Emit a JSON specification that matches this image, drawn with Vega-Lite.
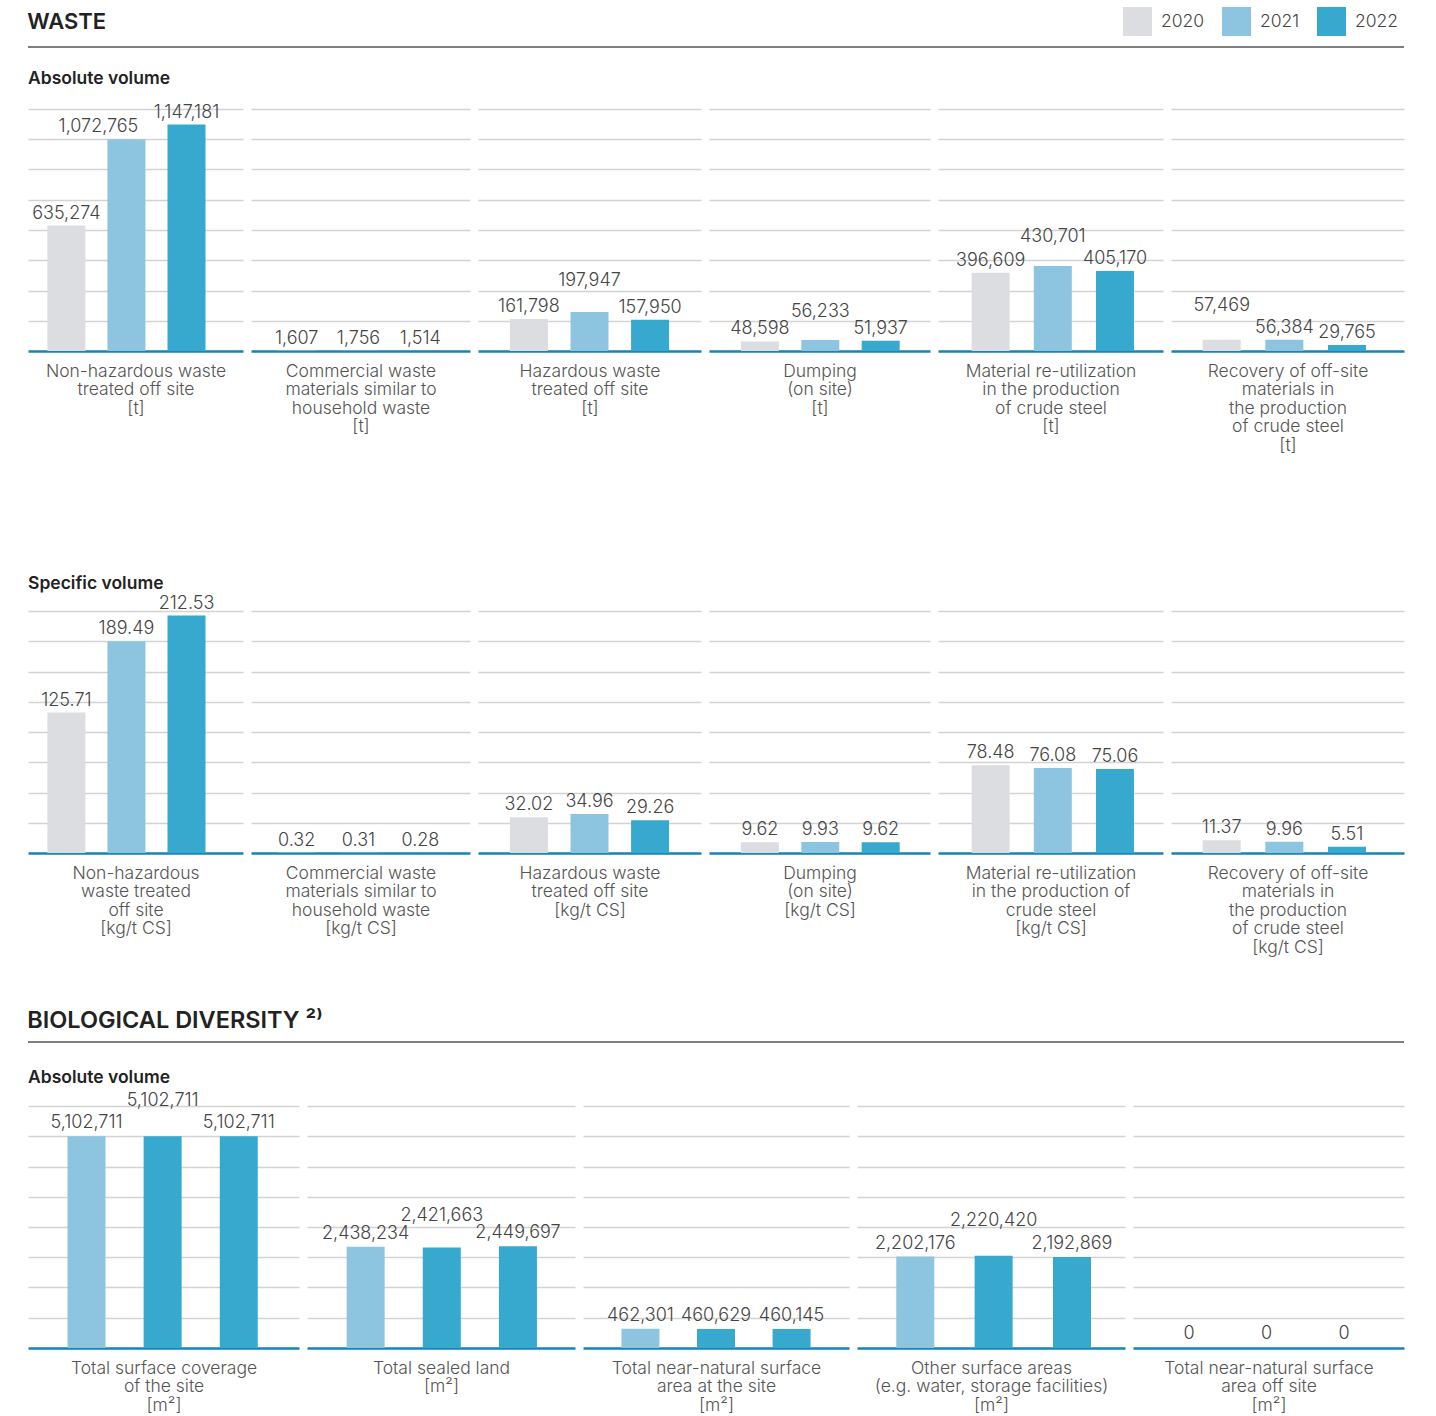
{
"$schema": "https://vega.github.io/schema/vega-lite/v6.json",
"padding": {"left": 27, "top": 7, "right": 33, "bottom": 0},
"background": "white",
"data": {"values": [
{"p":"a1","s":1,"yr":"2020","v":635274},{"p":"a1","s":2,"yr":"2021","v":1072765},{"p":"a1","s":3,"yr":"2022","v":1147181},
{"p":"a2","s":1,"yr":"2020","v":1607},{"p":"a2","s":2,"yr":"2021","v":1756},{"p":"a2","s":3,"yr":"2022","v":1514},
{"p":"a3","s":1,"yr":"2020","v":161798},{"p":"a3","s":2,"yr":"2021","v":197947},{"p":"a3","s":3,"yr":"2022","v":157950},
{"p":"a4","s":1,"yr":"2020","v":48598},{"p":"a4","s":2,"yr":"2021","v":56233},{"p":"a4","s":3,"yr":"2022","v":51937},
{"p":"a5","s":1,"yr":"2020","v":396609},{"p":"a5","s":2,"yr":"2021","v":430701},{"p":"a5","s":3,"yr":"2022","v":405170},
{"p":"a6","s":1,"yr":"2020","v":57469},{"p":"a6","s":2,"yr":"2021","v":56384},{"p":"a6","s":3,"yr":"2022","v":29765},
{"p":"s1","s":1,"yr":"2020","v":125.71},{"p":"s1","s":2,"yr":"2021","v":189.49},{"p":"s1","s":3,"yr":"2022","v":212.53},
{"p":"s2","s":1,"yr":"2020","v":0.32},{"p":"s2","s":2,"yr":"2021","v":0.31},{"p":"s2","s":3,"yr":"2022","v":0.28},
{"p":"s3","s":1,"yr":"2020","v":32.02},{"p":"s3","s":2,"yr":"2021","v":34.96},{"p":"s3","s":3,"yr":"2022","v":29.26},
{"p":"s4","s":1,"yr":"2020","v":9.62},{"p":"s4","s":2,"yr":"2021","v":9.93},{"p":"s4","s":3,"yr":"2022","v":9.62},
{"p":"s5","s":1,"yr":"2020","v":78.48},{"p":"s5","s":2,"yr":"2021","v":76.08},{"p":"s5","s":3,"yr":"2022","v":75.06},
{"p":"s6","s":1,"yr":"2020","v":11.37},{"p":"s6","s":2,"yr":"2021","v":9.96},{"p":"s6","s":3,"yr":"2022","v":5.51},
{"p":"b1","s":1,"yr":"2021","v":5102711},{"p":"b1","s":2,"yr":"2022","v":5102711},{"p":"b1","s":3,"yr":"2022","v":5102711},
{"p":"b2","s":1,"yr":"2021","v":2438234},{"p":"b2","s":2,"yr":"2022","v":2421663},{"p":"b2","s":3,"yr":"2022","v":2449697},
{"p":"b3","s":1,"yr":"2021","v":462301},{"p":"b3","s":2,"yr":"2022","v":460629},{"p":"b3","s":3,"yr":"2022","v":460145},
{"p":"b4","s":1,"yr":"2021","v":2202176},{"p":"b4","s":2,"yr":"2022","v":2220420},{"p":"b4","s":3,"yr":"2022","v":2192869},
{"p":"b5","s":1,"yr":"2021","v":0},{"p":"b5","s":2,"yr":"2022","v":0},{"p":"b5","s":3,"yr":"2022","v":0}
]},
"spacing": 52,
"vconcat": [
{"spacing": 120, "vconcat": [
{"spacing": 22, "vconcat": [
{"data": {"values": [{}]}, "width": 1376, "height": 1, "title": {"text": "WASTE", "fontSize": 22, "offset": 12},
 "mark": {"type": "rule", "color": "#555555", "strokeWidth": 1.5},
 "encoding": {"y": {"datum": 1, "type": "quantitative", "scale": {"domain": [0, 1]}, "axis": null}}},
{"title": {"text": "Absolute volume", "fontSize": 17.5, "offset": 16}, "spacing": 8, "bounds": "flush", "hconcat": [
{"width": 215, "height": 242, "transform": [{"filter": "datum.p=='a1'"}],
 "encoding": {"x": {"field": "s", "type": "ordinal", "scale": {"paddingInner": 0, "paddingOuter": 0.29, "align": 0.24}, "axis": {"title": ["Non-hazardous waste", "treated off site", "[t]"]}},
  "y": {"field": "v", "type": "quantitative", "title": null, "scale": {"domain": [0, 1226017], "nice": false}, "axis": {"values": [153252, 306504, 459756, 613009, 766261, 919513, 1072765, 1226017]}}},
 "layer": [
  {"mark": {"type": "bar", "width": 38}, "encoding": {"color": {"field": "yr", "type": "nominal", "title": null, "scale": {"domain": ["2020", "2021", "2022"], "range": ["#dcdde0", "#8dc5e1", "#37a8ce"]}}}},
  {"transform": [{"filter": "datum.s!=2"}], "mark": {"type": "text", "dy": -7}, "encoding": {"text": {"field": "v", "type": "quantitative", "format": ",.0f"}}},
  {"transform": [{"filter": "datum.s==2"}], "mark": {"type": "text", "dy": -7, "dx": -28}, "encoding": {"text": {"field": "v", "type": "quantitative", "format": ",.0f"}}}
 ]},
{"width": 219, "height": 242, "transform": [{"filter": "datum.p=='a2'"}],
 "encoding": {"x": {"field": "s", "type": "ordinal", "scale": {"paddingInner": 0, "paddingOuter": 0.27, "align": 0.44}, "axis": {"title": ["Commercial waste", "materials similar to", "household waste", "[t]"]}},
  "y": {"field": "v", "type": "quantitative", "title": null, "scale": {"domain": [0, 1226017], "nice": false}, "axis": {"values": [153252, 306504, 459756, 613009, 766261, 919513, 1072765, 1226017]}}},
 "layer": [
  {"mark": {"type": "bar", "width": 38}, "encoding": {"color": {"field": "yr", "type": "nominal", "title": null, "scale": {"domain": ["2020", "2021", "2022"], "range": ["#dcdde0", "#8dc5e1", "#37a8ce"]}}}},
  {"mark": {"type": "text", "dy": -7}, "encoding": {"text": {"field": "v", "type": "quantitative", "format": ",.0f"}}}
 ]},
{"width": 223, "height": 242, "transform": [{"filter": "datum.p=='a3'"}],
 "encoding": {"x": {"field": "s", "type": "ordinal", "scale": {"paddingInner": 0, "paddingOuter": 0.34, "align": 0.5}, "axis": {"title": ["Hazardous waste", "treated off site", "[t]"]}},
  "y": {"field": "v", "type": "quantitative", "title": null, "scale": {"domain": [0, 1226017], "nice": false}, "axis": {"values": [153252, 306504, 459756, 613009, 766261, 919513, 1072765, 1226017]}}},
 "layer": [
  {"mark": {"type": "bar", "width": 38}, "encoding": {"color": {"field": "yr", "type": "nominal", "title": null, "scale": {"domain": ["2020", "2021", "2022"], "range": ["#dcdde0", "#8dc5e1", "#37a8ce"]}}}},
  {"transform": [{"filter": "datum.s!=2"}], "mark": {"type": "text", "dy": -7}, "encoding": {"text": {"field": "v", "type": "quantitative", "format": ",.0f"}}},
  {"transform": [{"filter": "datum.s==2"}], "mark": {"type": "text", "dy": -26}, "encoding": {"text": {"field": "v", "type": "quantitative", "format": ",.0f"}}}
 ]},
{"width": 221, "height": 242, "transform": [{"filter": "datum.p=='a4'"}],
 "encoding": {"x": {"field": "s", "type": "ordinal", "scale": {"paddingInner": 0, "paddingOuter": 0.33, "align": 0.52}, "axis": {"title": ["Dumping", "(on site)", "[t]"]}},
  "y": {"field": "v", "type": "quantitative", "title": null, "scale": {"domain": [0, 1226017], "nice": false}, "axis": {"values": [153252, 306504, 459756, 613009, 766261, 919513, 1072765, 1226017]}}},
 "layer": [
  {"mark": {"type": "bar", "width": 38}, "encoding": {"color": {"field": "yr", "type": "nominal", "title": null, "scale": {"domain": ["2020", "2021", "2022"], "range": ["#dcdde0", "#8dc5e1", "#37a8ce"]}}}},
  {"transform": [{"filter": "datum.s!=2"}], "mark": {"type": "text", "dy": -7}, "encoding": {"text": {"field": "v", "type": "quantitative", "format": ",.0f"}}},
  {"transform": [{"filter": "datum.s==2"}], "mark": {"type": "text", "dy": -23}, "encoding": {"text": {"field": "v", "type": "quantitative", "format": ",.0f"}}}
 ]},
{"width": 225, "height": 242, "transform": [{"filter": "datum.p=='a5'"}],
 "encoding": {"x": {"field": "s", "type": "ordinal", "scale": {"paddingInner": 0, "paddingOuter": 0.31, "align": 0.56}, "axis": {"title": ["Material re-utilization", "in the production", "of crude steel", "[t]"]}},
  "y": {"field": "v", "type": "quantitative", "title": null, "scale": {"domain": [0, 1226017], "nice": false}, "axis": {"values": [153252, 306504, 459756, 613009, 766261, 919513, 1072765, 1226017]}}},
 "layer": [
  {"mark": {"type": "bar", "width": 38}, "encoding": {"color": {"field": "yr", "type": "nominal", "title": null, "scale": {"domain": ["2020", "2021", "2022"], "range": ["#dcdde0", "#8dc5e1", "#37a8ce"]}}}},
  {"transform": [{"filter": "datum.s!=2"}], "mark": {"type": "text", "dy": -7}, "encoding": {"text": {"field": "v", "type": "quantitative", "format": ",.0f"}}},
  {"transform": [{"filter": "datum.s==2"}], "mark": {"type": "text", "dy": -24}, "encoding": {"text": {"field": "v", "type": "quantitative", "format": ",.0f"}}}
 ]},
{"width": 233, "height": 242, "transform": [{"filter": "datum.p=='a6'"}],
 "encoding": {"x": {"field": "s", "type": "ordinal", "scale": {"paddingInner": 0, "paddingOuter": 0.36, "align": 0.43}, "axis": {"title": ["Recovery of off-site", "materials in", "the production", "of crude steel", "[t]"]}},
  "y": {"field": "v", "type": "quantitative", "title": null, "scale": {"domain": [0, 1226017], "nice": false}, "axis": {"values": [153252, 306504, 459756, 613009, 766261, 919513, 1072765, 1226017]}}},
 "layer": [
  {"mark": {"type": "bar", "width": 38}, "encoding": {"color": {"field": "yr", "type": "nominal", "title": null, "scale": {"domain": ["2020", "2021", "2022"], "range": ["#dcdde0", "#8dc5e1", "#37a8ce"]}}}},
  {"transform": [{"filter": "datum.s!=1"}], "mark": {"type": "text", "dy": -7}, "encoding": {"text": {"field": "v", "type": "quantitative", "format": ",.0f"}}},
  {"transform": [{"filter": "datum.s==1"}], "mark": {"type": "text", "dy": -29}, "encoding": {"text": {"field": "v", "type": "quantitative", "format": ",.0f"}}}
 ]}
]}
]},
{"title": {"text": "Specific volume", "fontSize": 17.5, "offset": 2.5}, "spacing": 8, "bounds": "flush", "hconcat": [
{"width": 215, "height": 242, "transform": [{"filter": "datum.p=='s1'"}],
 "encoding": {"x": {"field": "s", "type": "ordinal", "scale": {"paddingInner": 0, "paddingOuter": 0.29, "align": 0.24}, "axis": {"title": ["Non-hazardous", "waste treated", "off site", "[kg/t CS]"]}},
  "y": {"field": "v", "type": "quantitative", "title": null, "scale": {"domain": [0, 216.56], "nice": false}, "axis": {"values": [27.07, 54.14, 81.21, 108.28, 135.35, 162.42, 189.49, 216.56]}}},
 "layer": [
  {"mark": {"type": "bar", "width": 38}, "encoding": {"color": {"field": "yr", "type": "nominal", "title": null, "scale": {"domain": ["2020", "2021", "2022"], "range": ["#dcdde0", "#8dc5e1", "#37a8ce"]}}}},
  {"mark": {"type": "text", "dy": -7}, "encoding": {"text": {"field": "v", "type": "quantitative", "format": ".2f"}}}
 ]},
{"width": 219, "height": 242, "transform": [{"filter": "datum.p=='s2'"}],
 "encoding": {"x": {"field": "s", "type": "ordinal", "scale": {"paddingInner": 0, "paddingOuter": 0.27, "align": 0.44}, "axis": {"title": ["Commercial waste", "materials similar to", "household waste", "[kg/t CS]"]}},
  "y": {"field": "v", "type": "quantitative", "title": null, "scale": {"domain": [0, 216.56], "nice": false}, "axis": {"values": [27.07, 54.14, 81.21, 108.28, 135.35, 162.42, 189.49, 216.56]}}},
 "layer": [
  {"mark": {"type": "bar", "width": 38}, "encoding": {"color": {"field": "yr", "type": "nominal", "title": null, "scale": {"domain": ["2020", "2021", "2022"], "range": ["#dcdde0", "#8dc5e1", "#37a8ce"]}}}},
  {"mark": {"type": "text", "dy": -7}, "encoding": {"text": {"field": "v", "type": "quantitative", "format": ".2f"}}}
 ]},
{"width": 223, "height": 242, "transform": [{"filter": "datum.p=='s3'"}],
 "encoding": {"x": {"field": "s", "type": "ordinal", "scale": {"paddingInner": 0, "paddingOuter": 0.34, "align": 0.5}, "axis": {"title": ["Hazardous waste", "treated off site", "[kg/t CS]"]}},
  "y": {"field": "v", "type": "quantitative", "title": null, "scale": {"domain": [0, 216.56], "nice": false}, "axis": {"values": [27.07, 54.14, 81.21, 108.28, 135.35, 162.42, 189.49, 216.56]}}},
 "layer": [
  {"mark": {"type": "bar", "width": 38}, "encoding": {"color": {"field": "yr", "type": "nominal", "title": null, "scale": {"domain": ["2020", "2021", "2022"], "range": ["#dcdde0", "#8dc5e1", "#37a8ce"]}}}},
  {"mark": {"type": "text", "dy": -7}, "encoding": {"text": {"field": "v", "type": "quantitative", "format": ".2f"}}}
 ]},
{"width": 221, "height": 242, "transform": [{"filter": "datum.p=='s4'"}],
 "encoding": {"x": {"field": "s", "type": "ordinal", "scale": {"paddingInner": 0, "paddingOuter": 0.33, "align": 0.52}, "axis": {"title": ["Dumping", "(on site)", "[kg/t CS]"]}},
  "y": {"field": "v", "type": "quantitative", "title": null, "scale": {"domain": [0, 216.56], "nice": false}, "axis": {"values": [27.07, 54.14, 81.21, 108.28, 135.35, 162.42, 189.49, 216.56]}}},
 "layer": [
  {"mark": {"type": "bar", "width": 38}, "encoding": {"color": {"field": "yr", "type": "nominal", "title": null, "scale": {"domain": ["2020", "2021", "2022"], "range": ["#dcdde0", "#8dc5e1", "#37a8ce"]}}}},
  {"mark": {"type": "text", "dy": -7}, "encoding": {"text": {"field": "v", "type": "quantitative", "format": ".2f"}}}
 ]},
{"width": 225, "height": 242, "transform": [{"filter": "datum.p=='s5'"}],
 "encoding": {"x": {"field": "s", "type": "ordinal", "scale": {"paddingInner": 0, "paddingOuter": 0.31, "align": 0.56}, "axis": {"title": ["Material re-utilization", "in the production of", "crude steel", "[kg/t CS]"]}},
  "y": {"field": "v", "type": "quantitative", "title": null, "scale": {"domain": [0, 216.56], "nice": false}, "axis": {"values": [27.07, 54.14, 81.21, 108.28, 135.35, 162.42, 189.49, 216.56]}}},
 "layer": [
  {"mark": {"type": "bar", "width": 38}, "encoding": {"color": {"field": "yr", "type": "nominal", "title": null, "scale": {"domain": ["2020", "2021", "2022"], "range": ["#dcdde0", "#8dc5e1", "#37a8ce"]}}}},
  {"mark": {"type": "text", "dy": -7}, "encoding": {"text": {"field": "v", "type": "quantitative", "format": ".2f"}}}
 ]},
{"width": 233, "height": 242, "transform": [{"filter": "datum.p=='s6'"}],
 "encoding": {"x": {"field": "s", "type": "ordinal", "scale": {"paddingInner": 0, "paddingOuter": 0.36, "align": 0.43}, "axis": {"title": ["Recovery of off-site", "materials in", "the production", "of crude steel", "[kg/t CS]"]}},
  "y": {"field": "v", "type": "quantitative", "title": null, "scale": {"domain": [0, 216.56], "nice": false}, "axis": {"values": [27.07, 54.14, 81.21, 108.28, 135.35, 162.42, 189.49, 216.56]}}},
 "layer": [
  {"mark": {"type": "bar", "width": 38}, "encoding": {"color": {"field": "yr", "type": "nominal", "title": null, "scale": {"domain": ["2020", "2021", "2022"], "range": ["#dcdde0", "#8dc5e1", "#37a8ce"]}}}},
  {"mark": {"type": "text", "dy": -7}, "encoding": {"text": {"field": "v", "type": "quantitative", "format": ".2f"}}}
 ]}
]}
]},
{"spacing": 25, "vconcat": [
{"data": {"values": [{}]}, "width": 1376, "height": 1, "title": {"text": "BIOLOGICAL DIVERSITY ²⁾", "fontSize": 23.5, "offset": 9},
 "mark": {"type": "rule", "color": "#555555", "strokeWidth": 1.5},
 "encoding": {"y": {"datum": 1, "type": "quantitative", "scale": {"domain": [0, 1]}, "axis": null}}},
{"title": {"text": "Absolute volume", "fontSize": 17.5, "offset": 6}, "spacing": 8, "bounds": "flush", "hconcat": [
{"width": 271, "height": 242, "transform": [{"filter": "datum.p=='b1'"}],
 "encoding": {"x": {"field": "s", "type": "ordinal", "scale": {"paddingInner": 0, "paddingOuter": 0.28, "align": 0.48}, "axis": {"title": ["Total surface coverage", "of the site", "[m²]"]}},
  "y": {"field": "v", "type": "quantitative", "title": null, "scale": {"domain": [0, 5831670], "nice": false}, "axis": {"values": [728959, 1457918, 2186876, 2915835, 3644794, 4373752, 5102711, 5831670]}}},
 "layer": [
  {"mark": {"type": "bar", "width": 38}, "encoding": {"color": {"field": "yr", "type": "nominal", "title": null, "scale": {"domain": ["2020", "2021", "2022"], "range": ["#dcdde0", "#8dc5e1", "#37a8ce"]}}}},
  {"transform": [{"filter": "datum.s!=2"}], "mark": {"type": "text", "dy": -8}, "encoding": {"text": {"field": "v", "type": "quantitative", "format": ",.0f"}}},
  {"transform": [{"filter": "datum.s==2"}], "mark": {"type": "text", "dy": -30}, "encoding": {"text": {"field": "v", "type": "quantitative", "format": ",.0f"}}}
 ]},
{"width": 268, "height": 242, "transform": [{"filter": "datum.p=='b2'"}],
 "encoding": {"x": {"field": "s", "type": "ordinal", "scale": {"paddingInner": 0, "paddingOuter": 0.26, "align": 0.52}, "axis": {"title": ["Total sealed land", "[m²]"]}},
  "y": {"field": "v", "type": "quantitative", "title": null, "scale": {"domain": [0, 5831670], "nice": false}, "axis": {"values": [728959, 1457918, 2186876, 2915835, 3644794, 4373752, 5102711, 5831670]}}},
 "layer": [
  {"mark": {"type": "bar", "width": 38}, "encoding": {"color": {"field": "yr", "type": "nominal", "title": null, "scale": {"domain": ["2020", "2021", "2022"], "range": ["#dcdde0", "#8dc5e1", "#37a8ce"]}}}},
  {"transform": [{"filter": "datum.s!=2"}], "mark": {"type": "text", "dy": -8}, "encoding": {"text": {"field": "v", "type": "quantitative", "format": ",.0f"}}},
  {"transform": [{"filter": "datum.s==2"}], "mark": {"type": "text", "dy": -27}, "encoding": {"text": {"field": "v", "type": "quantitative", "format": ",.0f"}}}
 ]},
{"width": 266, "height": 242, "transform": [{"filter": "datum.p=='b3'"}],
 "encoding": {"x": {"field": "s", "type": "ordinal", "scale": {"paddingInner": 0, "paddingOuter": 0.26, "align": 0.5}, "axis": {"title": ["Total near-natural surface", "area at the site", "[m²]"]}},
  "y": {"field": "v", "type": "quantitative", "title": null, "scale": {"domain": [0, 5831670], "nice": false}, "axis": {"values": [728959, 1457918, 2186876, 2915835, 3644794, 4373752, 5102711, 5831670]}}},
 "layer": [
  {"mark": {"type": "bar", "width": 38}, "encoding": {"color": {"field": "yr", "type": "nominal", "title": null, "scale": {"domain": ["2020", "2021", "2022"], "range": ["#dcdde0", "#8dc5e1", "#37a8ce"]}}}},
  {"mark": {"type": "text", "dy": -8}, "encoding": {"text": {"field": "v", "type": "quantitative", "format": ",.0f"}}}
 ]},
{"width": 268, "height": 242, "transform": [{"filter": "datum.p=='b4'"}],
 "encoding": {"x": {"field": "s", "type": "ordinal", "scale": {"paddingInner": 0, "paddingOuter": 0.21, "align": 0.58}, "axis": {"title": ["Other surface areas", "(e.g. water, storage facilities)", "[m²]"]}},
  "y": {"field": "v", "type": "quantitative", "title": null, "scale": {"domain": [0, 5831670], "nice": false}, "axis": {"values": [728959, 1457918, 2186876, 2915835, 3644794, 4373752, 5102711, 5831670]}}},
 "layer": [
  {"mark": {"type": "bar", "width": 38}, "encoding": {"color": {"field": "yr", "type": "nominal", "title": null, "scale": {"domain": ["2020", "2021", "2022"], "range": ["#dcdde0", "#8dc5e1", "#37a8ce"]}}}},
  {"transform": [{"filter": "datum.s!=2"}], "mark": {"type": "text", "dy": -8}, "encoding": {"text": {"field": "v", "type": "quantitative", "format": ",.0f"}}},
  {"transform": [{"filter": "datum.s==2"}], "mark": {"type": "text", "dy": -30}, "encoding": {"text": {"field": "v", "type": "quantitative", "format": ",.0f"}}}
 ]},
{"width": 271, "height": 242, "transform": [{"filter": "datum.p=='b5'"}],
 "encoding": {"x": {"field": "s", "type": "ordinal", "scale": {"paddingInner": 0, "paddingOuter": 0.25, "align": 0.45}, "axis": {"title": ["Total near-natural surface", "area off site", "[m²]"]}},
  "y": {"field": "v", "type": "quantitative", "title": null, "scale": {"domain": [0, 5831670], "nice": false}, "axis": {"values": [728959, 1457918, 2186876, 2915835, 3644794, 4373752, 5102711, 5831670]}}},
 "layer": [
  {"mark": {"type": "bar", "width": 38}, "encoding": {"color": {"field": "yr", "type": "nominal", "title": null, "scale": {"domain": ["2020", "2021", "2022"], "range": ["#dcdde0", "#8dc5e1", "#37a8ce"]}}}},
  {"mark": {"type": "text", "dy": -9}, "encoding": {"text": {"field": "v", "type": "quantitative", "format": ",.0f"}}}
 ]}
]}
]}
],
"config": {
 "font": "Inter",
 "view": {"stroke": null},
 "axisX": {"domainColor": "#1585b6", "domainWidth": 2.5, "labels": false, "ticks": false, "grid": false, "titleFont": "Inter", "titleFontSize": 17.5, "titleFontWeight": 300, "titleColor": "#555555", "titleLineHeight": 18.5, "titlePadding": 11},
 "axisY": {"domain": false, "labels": false, "ticks": false, "grid": true, "gridColor": "#d3d3d3", "gridWidth": 1.5},
 "text": {"font": "Inter", "fontSize": 18, "fontWeight": 300, "color": "#444444", "baseline": "alphabetic", "align": "center"},
 "title": {"anchor": "start", "font": "Inter", "fontWeight": 600, "color": "#222222"},
 "legend": {"orient": "none", "legendX": 1095, "legendY": -40, "direction": "horizontal", "symbolType": "square", "symbolSize": 841, "symbolStrokeWidth": 0, "labelFont": "Inter", "labelFontSize": 17.5, "labelFontWeight": 300, "labelColor": "#444444", "labelOffset": 9, "columnPadding": 17, "padding": 0}
}
}
